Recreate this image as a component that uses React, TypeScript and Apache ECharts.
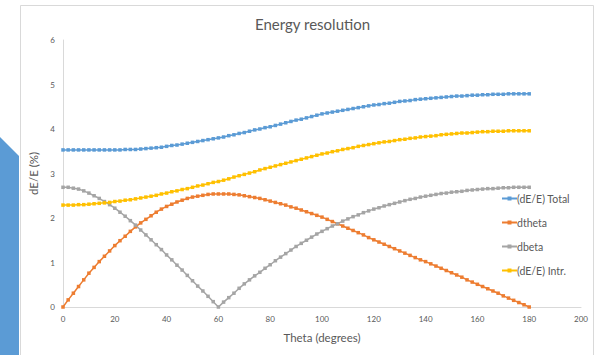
import React, { useEffect, useRef } from "react";
import * as echarts from "echarts";

const theta = [
  0, 2, 4, 6, 8, 10, 12, 14, 16, 18, 20, 22, 24, 26, 28, 30, 32, 34, 36, 38, 40,
  42, 44, 46, 48, 50, 52, 54, 56, 58, 60, 62, 64, 66, 68, 70, 72, 74, 76, 78, 80,
  82, 84, 86, 88, 90, 92, 94, 96, 98, 100, 102, 104, 106, 108, 110, 112, 114, 116,
  118, 120, 122, 124, 126, 128, 130, 132, 134, 136, 138, 140, 142, 144, 146, 148,
  150, 152, 154, 156, 158, 160, 162, 164, 166, 168, 170, 172, 174, 176, 178, 180,
];

const total = [
  3.53, 3.53, 3.53, 3.53, 3.53, 3.53, 3.53, 3.53, 3.53, 3.53, 3.53, 3.53, 3.54,
  3.54, 3.54, 3.55, 3.56, 3.57, 3.58, 3.59, 3.61, 3.63, 3.64, 3.66, 3.68, 3.7,
  3.72, 3.74, 3.76, 3.78, 3.8, 3.82, 3.85, 3.87, 3.9, 3.92, 3.95, 3.98, 4.0, 4.03,
  4.05, 4.08, 4.11, 4.14, 4.17, 4.2, 4.22, 4.25, 4.28, 4.31, 4.34, 4.36, 4.38,
  4.4, 4.42, 4.44, 4.46, 4.48, 4.5, 4.52, 4.54, 4.55, 4.57, 4.58, 4.6, 4.62, 4.63,
  4.64, 4.66, 4.67, 4.68, 4.69, 4.7, 4.71, 4.72, 4.73, 4.74, 4.74, 4.75, 4.76,
  4.76, 4.77, 4.77, 4.78, 4.78, 4.78, 4.79, 4.79, 4.79, 4.79, 4.79,
];

const dtheta = [
  0.0, 0.16, 0.31, 0.46, 0.61, 0.76, 0.89, 1.02, 1.14, 1.26, 1.38, 1.49, 1.59,
  1.7, 1.8, 1.89, 1.97, 2.05, 2.13, 2.2, 2.26, 2.31, 2.36, 2.4, 2.44, 2.47, 2.49,
  2.51, 2.53, 2.54, 2.54, 2.54, 2.54, 2.53, 2.52, 2.5, 2.48, 2.46, 2.44, 2.41,
  2.38, 2.35, 2.32, 2.29, 2.25, 2.22, 2.18, 2.14, 2.1, 2.06, 2.02, 1.97, 1.92,
  1.87, 1.82, 1.77, 1.72, 1.67, 1.62, 1.56, 1.51, 1.46, 1.41, 1.36, 1.31, 1.26,
  1.21, 1.16, 1.11, 1.06, 1.02, 0.97, 0.92, 0.87, 0.82, 0.77, 0.72, 0.67, 0.61,
  0.56, 0.51, 0.46, 0.41, 0.36, 0.31, 0.25, 0.2, 0.15, 0.1, 0.05, 0.0,
];

const dbeta = [
  2.69, 2.69, 2.67, 2.65, 2.61, 2.56, 2.5, 2.44, 2.37, 2.3, 2.22, 2.13, 2.04,
  1.94, 1.84, 1.73, 1.62, 1.51, 1.4, 1.29, 1.17, 1.06, 0.94, 0.83, 0.71, 0.59,
  0.47, 0.36, 0.24, 0.12, 0.0, 0.11, 0.21, 0.31, 0.42, 0.52, 0.61, 0.7, 0.78,
  0.87, 0.95, 1.04, 1.12, 1.2, 1.28, 1.36, 1.43, 1.5, 1.57, 1.64, 1.7, 1.76, 1.82,
  1.87, 1.93, 1.98, 2.03, 2.07, 2.12, 2.16, 2.2, 2.23, 2.27, 2.3, 2.33, 2.36,
  2.39, 2.42, 2.44, 2.47, 2.49, 2.51, 2.53, 2.55, 2.56, 2.58, 2.59, 2.6, 2.62,
  2.63, 2.64, 2.65, 2.66, 2.66, 2.67, 2.68, 2.68, 2.69, 2.69, 2.69, 2.69,
];

const intr = [
  2.29, 2.29, 2.29, 2.3, 2.3, 2.31, 2.32, 2.33, 2.34, 2.35, 2.37, 2.38, 2.4,
  2.41, 2.43, 2.45, 2.47, 2.49, 2.51, 2.54, 2.56, 2.59, 2.61, 2.64, 2.66, 2.69,
  2.72, 2.74, 2.77, 2.8, 2.82, 2.85, 2.88, 2.92, 2.95, 2.98, 3.01, 3.04, 3.08,
  3.11, 3.14, 3.17, 3.2, 3.23, 3.26, 3.29, 3.32, 3.35, 3.38, 3.41, 3.44, 3.46,
  3.49, 3.51, 3.54, 3.56, 3.58, 3.61, 3.63, 3.65, 3.67, 3.69, 3.71, 3.72, 3.74,
  3.76, 3.77, 3.79, 3.8, 3.82, 3.83, 3.84, 3.85, 3.87, 3.88, 3.89, 3.9, 3.91,
  3.91, 3.92, 3.93, 3.94, 3.94, 3.95, 3.95, 3.95, 3.96, 3.96, 3.96, 3.96, 3.96,
];

const seriesNames = ["(dE/E) Total", "dtheta", "dbeta", "(dE/E) Intr."];
const seriesColors = ["#5B9BD5", "#ED7D31", "#A5A5A5", "#FFC000"];
const seriesValues = [total, dtheta, dbeta, intr];

const FONT = "Lato, 'Open Sans', sans-serif";
const TEXT = "#595959";

export default function App() {
  const ref = useRef<HTMLDivElement>(null);

  useEffect(() => {
    document.body.style.margin = "0";
    if (!ref.current) return;
    const chart = echarts.init(ref.current, undefined, { renderer: "svg" });
    chart.setOption({
      animation: false,
      backgroundColor: "#ffffff",
      textStyle: { fontFamily: FONT },
      graphic: [
        {
          type: "polygon",
          z: -10,
          silent: true,
          shape: {
            points: [
              [0, 137],
              [19, 156],
              [19, 355],
              [0, 355],
            ],
          },
          style: { fill: "#5B9BD5" },
        },
        {
          type: "rect",
          z: -10,
          silent: true,
          shape: { x: 20.5, y: 5.5, width: 573, height: 400 },
          style: { fill: "#ffffff", stroke: "#D9D9D9", lineWidth: 1 },
        },
      ],
      title: {
        text: "Energy resolution",
        left: 250,
        top: 11,
        textStyle: {
          fontFamily: FONT,
          fontSize: 15,
          fontWeight: "normal",
          color: TEXT,
        },
      },
      legend: {
        orient: "vertical",
        left: 496,
        top: 187,
        itemWidth: 15,
        itemHeight: 5,
        itemGap: 11,
        data: seriesNames,
        textStyle: {
          fontFamily: FONT,
          fontSize: 10.5,
          lineHeight: 13,
          color: TEXT,
          padding: [0, 0, 0, -5],
        },
      },
      grid: { left: 63, right: 15, top: 40, bottom: 48 },
      xAxis: {
        type: "value",
        min: 0,
        max: 200,
        interval: 20,
        name: "Theta (degrees)",
        nameLocation: "middle",
        nameGap: 24,
        nameTextStyle: { fontFamily: FONT, fontSize: 11.5, color: TEXT },
        axisLine: { show: true, lineStyle: { color: "#D9D9D9", width: 1 } },
        axisTick: { show: false },
        splitLine: { show: false },
        axisLabel: { fontFamily: FONT, fontSize: 8, color: TEXT, margin: 8 },
      },
      yAxis: {
        type: "value",
        min: 0,
        max: 6,
        interval: 1,
        name: "dE/E (%)",
        nameLocation: "middle",
        nameGap: 12,
        nameTextStyle: { fontFamily: FONT, fontSize: 11.5, color: TEXT },
        axisLine: { show: true, lineStyle: { color: "#D9D9D9", width: 1 } },
        axisTick: { show: false },
        splitLine: { show: false },
        axisLabel: { fontFamily: FONT, fontSize: 8, color: TEXT, margin: 8 },
      },
      series: seriesNames.map((name, i) => ({
        name,
        type: "line",
        data: theta.map((t, j) => [t, seriesValues[i][j]]),
        symbol: "rect",
        symbolSize: 3.5,
        showSymbol: true,
        color: seriesColors[i],
        lineStyle: { color: seriesColors[i], width: 1.5 },
        itemStyle: { color: seriesColors[i] },
      })),
    });
    return () => chart.dispose();
  }, []);

  return <div ref={ref} style={{ width: 596, height: 355 }} />;
}
